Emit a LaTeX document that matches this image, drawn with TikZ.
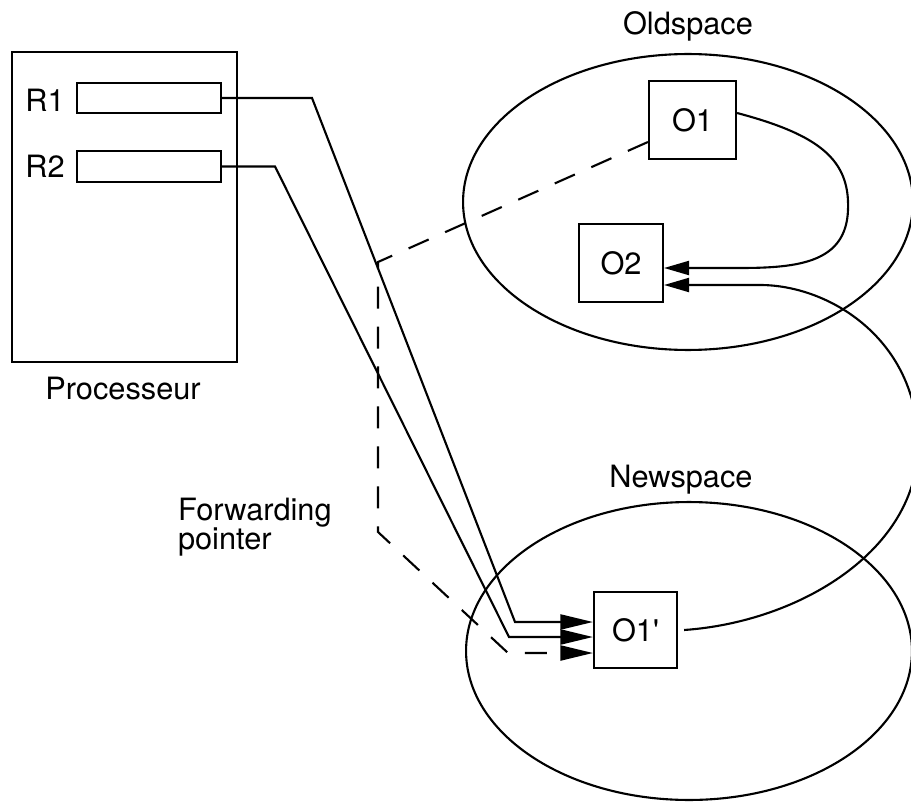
\documentclass[tikz,border=0pt]{standalone}
\usepackage{fontspec}
\setmainfont{TeX Gyre Heros}
\usetikzlibrary{arrows.meta,shapes.geometric,calc}
\begin{document}
\begin{tikzpicture}[x=0.02cm,y=-0.02cm, line width=1.2pt,
  box/.style={draw, rectangle, inner sep=0pt, font=\fontsize{17.5}{20}\selectfont},
  lbl/.style={inner sep=0pt, font=\fontsize{17.5}{20}\selectfont, anchor=base},
  space/.style={draw, ellipse, inner sep=0pt},
  ptr/.style={-{Triangle[length=6.5mm,width=3mm]}},
  ptrs/.style={-{Triangle[length=5mm,width=2.8mm]}},
  fwd/.style={dash pattern=on 4.4mm off 3.6mm}]
\useasboundingbox (0,0) rectangle (911,803);
% spaces
\node[space, minimum width=9cm, minimum height=5.92cm] (old) at (688,202) {};
\node[space, minimum width=8.92cm, minimum height=5.96cm] (new) at (689,651) {};
\node[lbl] (oldl) at (688,35) {Oldspace};
\node[lbl] (newl) at (681,487) {Newspace};
% processor
\node[box, minimum width=4.5cm, minimum height=6.2cm] (proc) at (124.5,207) {};
\node[box, minimum width=2.88cm, minimum height=0.6cm] (r1) at (149,98) {};
\node[box, minimum width=2.88cm, minimum height=0.62cm] (r2) at (149,166.5) {};
\node[lbl] (r1l) at (45,112) {R1};
\node[lbl] (r2l) at (45,178) {R2};
\node[lbl] (procl) at (123,399) {Processeur};
\node[inner sep=0pt, anchor=north west, align=left, font=\fontsize{17.5}{16.5}\selectfont] (fwdl) at (177,497) {Forwarding\\pointer};
% objects
\node[box, minimum width=1.74cm, minimum height=1.56cm] (o1) at (692.5,120) {O1};
\node[box, minimum width=1.68cm, minimum height=1.56cm] (o2) at (621,263) {O2};
\node[box, minimum width=1.66cm, minimum height=1.52cm] (o1p) at (635.5,630) {O1\textquotesingle};
% connectors
\draw[ptr] (r1.east) -- (312,98) -- (515,622) -- ($(o1p.west)+(0,-8)$);
\draw[ptr] (r2.east) -- (275,166.5) -- (509,637) -- ($(o1p.west)+(0,7)$);
\draw[ptr, fwd] ($(o1.west)+(0,22)$) -- (378,262) -- (378,532) -- (508,653) -- ($(o1p.west)+(0,23)$);
\draw[ptrs] ($(o1.east)+(0,-7)$) .. controls (820,135) and (850,160) .. (848,210) .. controls (846,262) and (800,268) .. (740,268) -- ($(o2.east)+(0,5)$);
\draw[ptrs] ($(o1p.east)+(6,0)$) .. controls (800,622) and (918,550) .. (918,445) .. controls (918,340) and (830,285) .. (760,285) -- ($(o2.east)+(0,22)$);
\end{tikzpicture}
\end{document}
